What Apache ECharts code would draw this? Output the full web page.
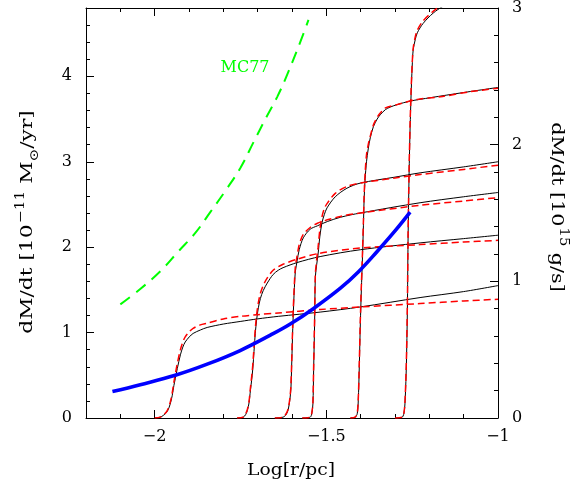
<!DOCTYPE html>
<html><head><meta charset="utf-8">
<script src="https://cdn.jsdelivr.net/npm/echarts@6/dist/echarts.min.js"></script>
<style>html,body{margin:0;padding:0;background:#fff}#c{width:582px;height:487px}</style>
</head><body><div id="c"></div>
<script>
// ---- tick values ----
const xMajor = [-2, -1.5, -1];
const xMinor = [-2.2, -2.1, -2.0, -1.9, -1.8, -1.7, -1.6, -1.5, -1.4, -1.3, -1.2, -1.1, -1.0];
const yLeftMajor = [0, 1, 2, 3, 4];
const yLeftMinor = [0.2, 0.4, 0.6, 0.8, 1.2, 1.4, 1.6, 1.8, 2.2, 2.4, 2.6, 2.8, 3.2, 3.4, 3.6, 3.8, 4.2, 4.4, 4.6];
const yRightMajor = [0, 1, 2, 3];
const yRightMinor = [0.2, 0.4, 0.6, 0.8, 1.2, 1.4, 1.6, 1.8, 2.2, 2.4, 2.6, 2.8];

// ---- black (solid) model curves ----
const curveA_black = [[-2.00,0],[-1.984,0.01],[-1.975,0.03],[-1.963,0.08],[-1.955,0.16],[-1.949,0.26],[-1.944,0.38],[-1.940,0.46],[-1.934,0.58],[-1.925,0.74],[-1.918,0.83],[-1.911,0.89],[-1.899,0.95],[-1.888,0.99],[-1.867,1.03],[-1.847,1.06],[-1.800,1.10],[-1.751,1.13],[-1.701,1.16],[-1.640,1.19],[-1.518,1.24],[-1.401,1.30],[-1.227,1.41],[-1.10,1.48],[-1.00,1.55]];
const curveB_black = [[-1.76,0],[-1.742,0.01],[-1.735,0.04],[-1.730,0.09],[-1.725,0.18],[-1.722,0.29],[-1.716,0.50],[-1.713,0.64],[-1.710,0.82],[-1.707,0.99],[-1.703,1.15],[-1.698,1.29],[-1.692,1.40],[-1.684,1.49],[-1.672,1.58],[-1.655,1.68],[-1.640,1.73],[-1.626,1.76],[-1.585,1.82],[-1.518,1.89],[-1.401,1.97],[-1.227,2.05],[-1.10,2.10],[-1.00,2.14]];
const curveC_black = [[-1.65,0],[-1.626,0.01],[-1.617,0.04],[-1.611,0.10],[-1.606,0.22],[-1.603,0.36],[-1.600,0.75],[-1.597,1.14],[-1.593,1.53],[-1.590,1.72],[-1.585,1.84],[-1.579,1.97],[-1.567,2.11],[-1.547,2.21],[-1.526,2.25],[-1.497,2.30],[-1.459,2.35],[-1.401,2.40],[-1.227,2.52],[-1.10,2.59],[-1.00,2.64]];
const curveD_black = [[-1.57,0],[-1.547,0.01],[-1.542,0.06],[-1.539,0.17],[-1.537,0.56],[-1.534,1.14],[-1.532,1.65],[-1.528,1.80],[-1.524,1.92],[-1.519,2.12],[-1.513,2.28],[-1.506,2.38],[-1.498,2.46],[-1.474,2.59],[-1.440,2.69],[-1.401,2.75],[-1.30,2.82],[-1.227,2.87],[-1.10,2.94],[-1.00,3.00]];
const curveE_black = [[-1.43,0],[-1.416,0.01],[-1.410,0.05],[-1.407,0.2],[-1.404,0.6],[-1.401,1.1],[-1.398,1.5],[-1.395,1.85],[-1.392,2.25],[-1.390,2.55],[-1.387,2.80],[-1.383,3.00],[-1.378,3.15],[-1.372,3.28],[-1.363,3.41],[-1.352,3.50],[-1.343,3.55],[-1.328,3.61],[-1.314,3.64],[-1.293,3.67],[-1.256,3.71],[-1.197,3.75],[-1.101,3.81],[-1.00,3.87]];
const curveF_black = [[-1.30,0],[-1.279,0.01],[-1.273,0.08],[-1.270,0.25],[-1.267,0.6],[-1.264,1.26],[-1.262,2.07],[-1.259,2.85],[-1.256,3.40],[-1.253,3.80],[-1.250,4.11],[-1.247,4.31],[-1.241,4.43],[-1.235,4.51],[-1.218,4.62],[-1.189,4.74],[-1.160,4.82],[-1.110,4.92]];

// ---- red (dashed) model curves ----
const curveA_red = [[-2.00,0],[-1.984,0.01],[-1.975,0.03],[-1.963,0.09],[-1.955,0.18],[-1.949,0.29],[-1.944,0.42],[-1.940,0.51],[-1.934,0.64],[-1.925,0.80],[-1.918,0.89],[-1.911,0.95],[-1.899,1.01],[-1.888,1.05],[-1.867,1.09],[-1.847,1.11],[-1.800,1.16],[-1.751,1.19],[-1.701,1.21],[-1.640,1.23],[-1.518,1.27],[-1.401,1.30],[-1.227,1.34],[-1.10,1.37],[-1.00,1.39]];
const curveB_red = [[-1.76,0],[-1.742,0.01],[-1.735,0.05],[-1.730,0.10],[-1.725,0.20],[-1.722,0.32],[-1.716,0.54],[-1.713,0.69],[-1.710,0.87],[-1.707,1.04],[-1.703,1.21],[-1.698,1.35],[-1.692,1.46],[-1.684,1.55],[-1.672,1.64],[-1.655,1.73],[-1.640,1.77],[-1.626,1.80],[-1.585,1.86],[-1.518,1.93],[-1.401,1.99],[-1.227,2.03],[-1.10,2.06],[-1.00,2.08]];
const curveC_red = [[-1.65,0],[-1.626,0.01],[-1.617,0.05],[-1.611,0.11],[-1.606,0.24],[-1.603,0.39],[-1.600,0.80],[-1.597,1.20],[-1.593,1.58],[-1.590,1.78],[-1.585,1.90],[-1.579,2.03],[-1.567,2.15],[-1.547,2.23],[-1.526,2.28],[-1.497,2.32],[-1.459,2.36],[-1.401,2.40],[-1.227,2.49],[-1.10,2.54],[-1.00,2.58]];
const curveD_red = [[-1.57,0],[-1.547,0.01],[-1.542,0.07],[-1.539,0.19],[-1.537,0.60],[-1.534,1.20],[-1.532,1.68],[-1.528,1.86],[-1.524,2.00],[-1.519,2.20],[-1.513,2.35],[-1.506,2.45],[-1.498,2.51],[-1.474,2.63],[-1.440,2.71],[-1.401,2.75],[-1.30,2.81],[-1.227,2.85],[-1.10,2.91],[-1.00,2.96]];
const curveE_red = [[-1.43,0],[-1.416,0.01],[-1.410,0.06],[-1.407,0.22],[-1.404,0.65],[-1.401,1.15],[-1.398,1.55],[-1.395,1.9],[-1.392,2.3],[-1.390,2.6],[-1.387,2.87],[-1.383,3.08],[-1.378,3.20],[-1.372,3.30],[-1.363,3.43],[-1.352,3.52],[-1.343,3.57],[-1.328,3.63],[-1.293,3.67],[-1.235,3.73],[-1.168,3.76],[-1.081,3.82],[-1.00,3.86]];
const curveF_red = [[-1.30,0],[-1.279,0.01],[-1.273,0.09],[-1.270,0.28],[-1.267,0.65],[-1.264,1.32],[-1.262,2.12],[-1.259,2.90],[-1.256,3.45],[-1.253,3.85],[-1.250,4.14],[-1.247,4.33],[-1.241,4.46],[-1.235,4.54],[-1.218,4.65],[-1.189,4.76],[-1.160,4.84],[-1.110,4.93]];

// ---- blue thick curve ----
const blueCurve = [[-2.123,0.31],[-2.042,0.39],[-1.940,0.50],[-1.847,0.63],[-1.751,0.79],[-1.663,0.97],[-1.605,1.10],[-1.538,1.28],[-1.459,1.52],[-1.407,1.71],[-1.352,1.95],[-1.300,2.19],[-1.256,2.41]];

// ---- green dashed MC77 curve ----
const mc77Curve = [[-2.100,1.33],[-2.042,1.51],[-1.983,1.72],[-1.931,1.95],[-1.881,2.17],[-1.838,2.41],[-1.794,2.66],[-1.750,2.93],[-1.712,3.23],[-1.675,3.52],[-1.643,3.76],[-1.614,4.02],[-1.576,4.40],[-1.552,4.66]];

const FONT = '"DejaVu Serif", "Liberation Serif", serif';
const chart = echarts.init(document.getElementById('c'), null, {renderer: 'canvas'});

function fmt(v) { return (v < 0 ? '\u2212' : '') + String(Math.abs(v)); }

function xAx(position, ticks, len, showLine, labels) {
  return {
    type: 'value', position: position, min: -2.2, max: -1, gridIndex: 0,
    axisLine: {show: showLine, onZero: false, lineStyle: {color: '#000', width: 1}},
    axisTick: {show: true, inside: true, length: len, customValues: ticks, lineStyle: {color: '#000', width: 1}},
    axisLabel: labels ? {show: true, customValues: ticks, formatter: fmt, margin: 11, color: '#000', fontFamily: FONT, fontSize: 16} : {show: false},
    splitLine: {show: false}
  };
}
function yAx(position, max, ticks, len, showLine, labels) {
  return {
    type: 'value', position: position, min: 0, max: max, gridIndex: 0,
    axisLine: {show: showLine, onZero: false, lineStyle: {color: '#000', width: 1}},
    axisTick: {show: true, inside: true, length: len, customValues: ticks, lineStyle: {color: '#000', width: 1}},
    axisLabel: labels ? {show: true, customValues: ticks, formatter: fmt, margin: 14, color: '#000', fontFamily: FONT, fontSize: 16} : {show: false},
    splitLine: {show: false}
  };
}
function line(data, color, width, type, z, smooth) {
  return {type: 'line', data: data, xAxisIndex: 0, yAxisIndex: 0, symbol: 'none', showSymbol: false,
    smooth: smooth, clip: true, silent: true, z: z,
    lineStyle: {color: color, width: width, type: type}};
}

const blacks = [curveA_black, curveB_black, curveC_black, curveD_black, curveE_black, curveF_black];
const reds = [curveA_red, curveB_red, curveC_red, curveD_red, curveE_red, curveF_red];
const series = [];
blacks.forEach(d => series.push(line(d, '#000000', 1, 'solid', 2, 0.3)));
reds.forEach(d => series.push(line(d, '#ff0000', 1.5, [7, 4], 3, 0.3)));
series.push(line(blueCurve, '#0000ff', 3.6, 'solid', 4, 0.4));
series.push(line(mc77Curve, '#00ff00', 2, [12, 8], 4, 0.4));

chart.setOption({
  animation: false,
  backgroundColor: '#fff',
  grid: {left: 86, right: 84, top: 5, bottom: 69, containLabel: false},
  xAxis: [
    xAx('bottom', xMajor, 8, true, true),
    xAx('bottom', xMinor, 4, false, false),
    xAx('top', xMajor, 8, true, false),
    xAx('top', xMinor, 4, false, false)
  ],
  yAxis: [
    yAx('left', 4.8, yLeftMajor, 8, true, true),
    yAx('left', 4.8, yLeftMinor, 4, false, false),
    yAx('right', 3, yRightMajor, 8, true, true),
    yAx('right', 3, yRightMinor, 4, false, false)
  ],
  series: series,
  graphic: [
    {type: 'text', x: 291, y: 471, scaleX: 1.1, silent: true,
      style: {text: 'Log[r/pc]', font: '17px ' + FONT, fill: '#000', align: 'center', verticalAlign: 'middle'}},
    {type: 'text', x: 28, y: 222, rotation: Math.PI / 2, scaleX: 1.28, silent: true,
      style: {text: '{a|dM/dt [10}{s|\u221211}{a| M}{b|\u2299}{a|/yr]}', align: 'center', verticalAlign: 'middle', fill: '#000',
        rich: {
          a: {fontFamily: FONT, fontSize: 17, lineHeight: 26, fill: '#000', verticalAlign: 'middle'},
          s: {fontFamily: FONT, fontSize: 12, lineHeight: 26, fill: '#000', verticalAlign: 'top', padding: [0, 0, 0, 1]},
          b: {fontFamily: FONT, fontSize: 12, lineHeight: 26, fill: '#000', verticalAlign: 'bottom'}
        }}},
    {type: 'text', x: 556, y: 207, rotation: -Math.PI / 2, scaleX: 1.22, silent: true,
      style: {text: '{a|dM/dt [10}{s|15}{a| g/s]}', align: 'center', verticalAlign: 'middle', fill: '#000',
        rich: {
          a: {fontFamily: FONT, fontSize: 17, lineHeight: 26, fill: '#000', verticalAlign: 'middle'},
          s: {fontFamily: FONT, fontSize: 12, lineHeight: 26, fill: '#000', verticalAlign: 'top', padding: [0, 0, 0, 1]}
        }}},
    {type: 'text', x: 245, y: 68, silent: true,
      style: {text: 'MC77', font: '16px ' + FONT, fill: '#00ff00', align: 'center', verticalAlign: 'middle'}}
  ]
});
</script>
</body></html>
